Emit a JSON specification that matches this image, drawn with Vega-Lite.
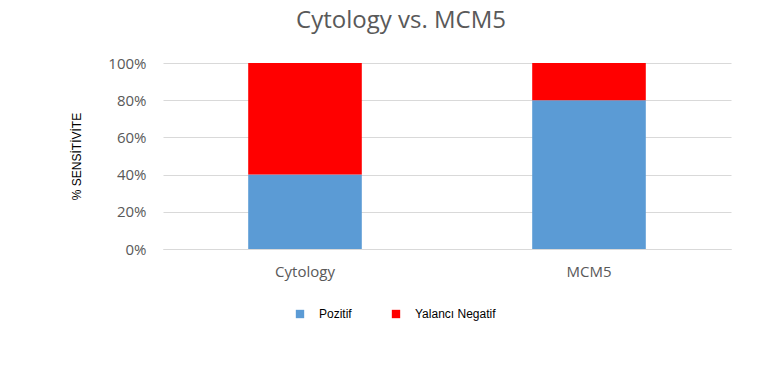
{
  "$schema": "https://vega.github.io/schema/vega-lite/v6.json",
  "width": 568,
  "height": 186,
  "autosize": {"type": "none"},
  "padding": {"left": 163, "top": 63, "right": 43, "bottom": 142},
  "background": "white",
  "title": {
    "text": "Cytology vs. MCM5",
    "font": "Open Sans",
    "fontSize": 24,
    "fontWeight": "normal",
    "color": "#595959",
    "anchor": "middle",
    "dx": -46,
    "offset": 23
  },
  "data": {
    "values": [
      {"test": "Cytology", "kind": "Pozitif", "pct": 0.40, "ord": 1},
      {"test": "Cytology", "kind": "Yalancı Negatif", "pct": 0.60, "ord": 2},
      {"test": "MCM5", "kind": "Pozitif", "pct": 0.80, "ord": 1},
      {"test": "MCM5", "kind": "Yalancı Negatif", "pct": 0.20, "ord": 2}
    ]
  },
  "mark": {"type": "bar"},
  "encoding": {
    "x": {
      "field": "test",
      "type": "nominal",
      "sort": ["Cytology", "MCM5"],
      "scale": {"paddingInner": 0.6, "paddingOuter": 0.3},
      "axis": {
        "title": null,
        "labelAngle": 0,
        "labelFont": "Open Sans",
        "labelFontSize": 15,
        "labelColor": "#595959",
        "labelPadding": 15,
        "ticks": false,
        "domain": true,
        "domainColor": "#D9D9D9",
        "grid": false
      }
    },
    "y": {
      "field": "pct",
      "type": "quantitative",
      "stack": "zero",
      "scale": {"domain": [0, 1]},
      "axis": {
        "format": ".0%",
        "values": [0, 0.2, 0.4, 0.6, 0.8, 1],
        "title": "% SENSİTİVİTE",
        "titleFont": "Liberation Sans",
        "titleFontSize": 12,
        "titleFontWeight": "normal",
        "titleColor": "#000000",
        "titlePadding": 24,
        "labelFont": "Open Sans",
        "labelFontSize": 15,
        "labelColor": "#595959",
        "labelPadding": 17,
        "ticks": false,
        "domain": false,
        "grid": true,
        "gridColor": "#D9D9D9",
        "gridWidth": 1
      }
    },
    "color": {
      "field": "kind",
      "type": "nominal",
      "scale": {"domain": ["Pozitif", "Yalancı Negatif"], "range": ["#5B9BD5", "#FF0000"]},
      "legend": {
        "title": null,
        "orient": "none",
        "direction": "horizontal",
        "legendX": 131,
        "legendY": 245,
        "symbolType": "square",
        "symbolSize": 70,
        "symbolStrokeWidth": 0,
        "labelFont": "Liberation Sans",
        "labelFontSize": 12,
        "labelColor": "#000000",
        "labelOffset": 13,
        "columnPadding": 38
      }
    },
    "order": {"field": "ord", "type": "quantitative"}
  },
  "config": {
    "view": {"stroke": null}
  }
}
